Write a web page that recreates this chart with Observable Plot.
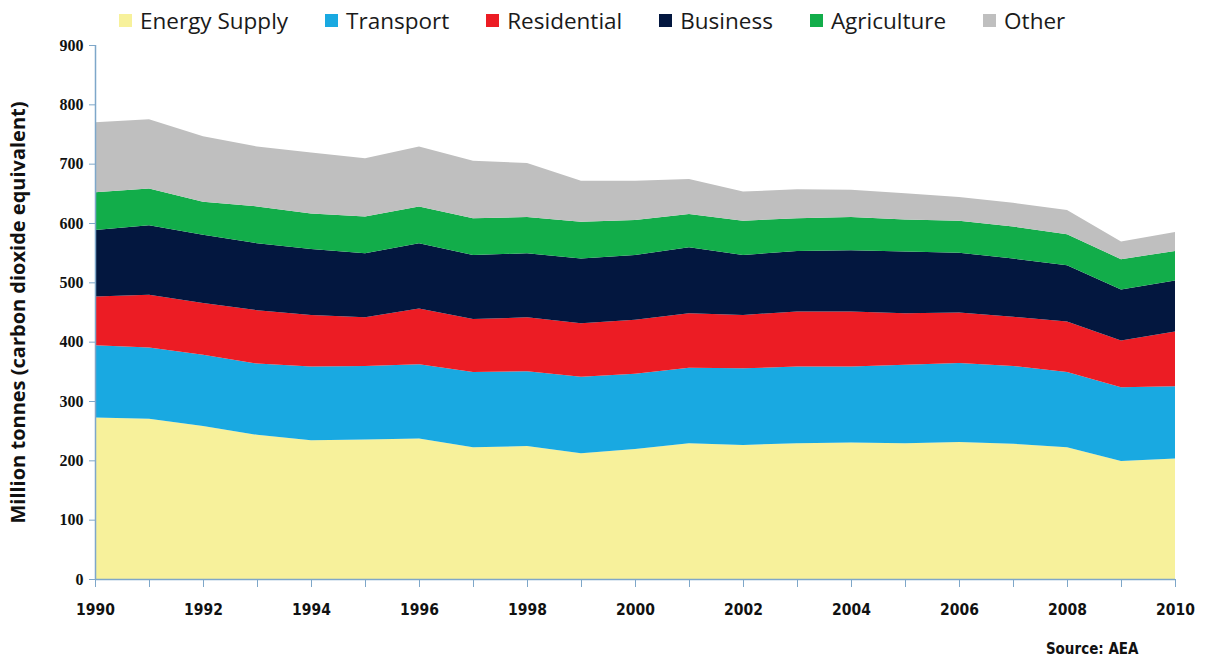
<!DOCTYPE html>
<html>
<head>
<meta charset="utf-8">
<script src="https://cdn.jsdelivr.net/npm/d3@7"></script>
<script src="https://cdn.jsdelivr.net/npm/@observablehq/plot@0.6"></script>
<style>
  body { margin: 0; background: #fff; }
  #wrap { position: relative; width: 1205px; height: 664px; }
  #legend {
    position: absolute; top: 5px; left: 119px;
    display: flex; font-family: "Open Sans", sans-serif; font-size: 22.5px; color: #1a1a1a;
  }
  #legend .item { display: flex; align-items: center; margin-right: 37px; }
  #legend .sw { width: 13px; height: 13px; margin-right: 8px; }
</style>
</head>
<body>
<div id="wrap">
  <div id="chart"></div>
  <div id="legend"></div>
</div>
<script>
const years = d3.range(1990, 2011)
const sectors = ['Energy Supply', 'Transport', 'Residential', 'Business', 'Agriculture', 'Other']
const colors = ['#f7f19b', '#19a9e1', '#ec1c24', '#03173f', '#12ad4a', '#bfbfbf']

// million tonnes CO2e
const energySupply = [272, 270, 258, 243, 234, 235, 237, 222, 224, 212, 219, 229, 226, 229, 230, 229, 231, 228, 222, 199, 203]
const transport    = [122, 120, 120, 120, 124, 124, 125, 127, 126, 129, 127, 127, 129, 129, 128, 132, 133, 131, 127, 124, 122]
const residential  = [82, 89, 87, 90, 87, 82, 94, 89, 91, 90, 91, 92, 90, 93, 93, 87, 85, 83, 85, 79, 92]
const business     = [112, 117, 115, 113, 111, 108, 110, 108, 108, 109, 109, 111, 101, 102, 103, 104, 101, 98, 95, 86, 86]
const agriculture  = [64, 62, 56, 62, 60, 62, 62, 62, 61, 62, 59, 56, 58, 55, 56, 54, 54, 54, 52, 51, 50]
const other        = [118, 117, 110, 101, 103, 98, 101, 97, 91, 69, 66, 59, 49, 49, 46, 44, 40, 40, 41, 30, 32]

const yTicks = d3.range(0, 901, 100)
const xLabels = d3.range(1990, 2011, 2)

const series = [energySupply, transport, residential, business, agriculture, other]
const data = []
series.forEach((vals, i) => {
  vals.forEach((v, j) => data.push({year: years[j], sector: sectors[i], value: v}))
})

const axisColor = '#7ea7c9'
const narrow = 'DejaVu Sans Condensed, Liberation Sans, sans-serif'

let chart = Plot.plot({
  width: 1205,
  height: 664,
  marginTop: 45,
  marginBottom: 85,
  marginLeft: 95,
  marginRight: 30,
  x: {domain: [1990, 2010]},
  y: {domain: [0, 900]},
  color: {domain: sectors, range: colors},
  style: {background: 'white'},
  marks: [
    Plot.areaY(data, {x: 'year', y: 'value', fill: 'sector', order: sectors}),
    Plot.ruleX([1990], {stroke: axisColor, strokeWidth: 1.5}),
    Plot.ruleY([0], {stroke: axisColor, strokeWidth: 1.5}),
    Plot.axisY({
      ticks: yTicks, tickSize: 6, stroke: axisColor, fill: '#111',
      fontFamily: 'Liberation Serif', fontWeight: 'bold', fontSize: 16,
      tickPadding: 6, label: null
    }),
    Plot.axisX({
      ticks: years, tickSize: 8, stroke: axisColor, tickFormat: () => '', label: null
    }),
    Plot.axisX({
      ticks: xLabels, tickSize: 0, tickFormat: 'd', tickPadding: 24, fill: '#111',
      fontFamily: narrow, fontWeight: 'bold', fontSize: 15.5, label: null
    }),
    Plot.text(['Million tonnes (carbon dioxide equivalent)'], {
      frameAnchor: 'left', rotate: -90, dx: -77, textAnchor: 'middle', fill: '#111',
      fontFamily: 'Open Sans', fontWeight: 'bold', fontSize: 20
    }),
    Plot.text(['Source: AEA'], {
      frameAnchor: 'bottom-right', dx: -37, dy: 74, textAnchor: 'end', fill: '#111',
      fontFamily: narrow, fontWeight: 'bold', fontSize: 15
    })
  ]
})

d3.select('#chart').append(() => chart)

const legend = d3.select('#legend')
sectors.forEach((s, i) => {
  const item = legend.append('div').attr('class', 'item')
  item.append('div').attr('class', 'sw').style('background', colors[i])
  item.append('span').text(s)
})
</script>
</body>
</html>
